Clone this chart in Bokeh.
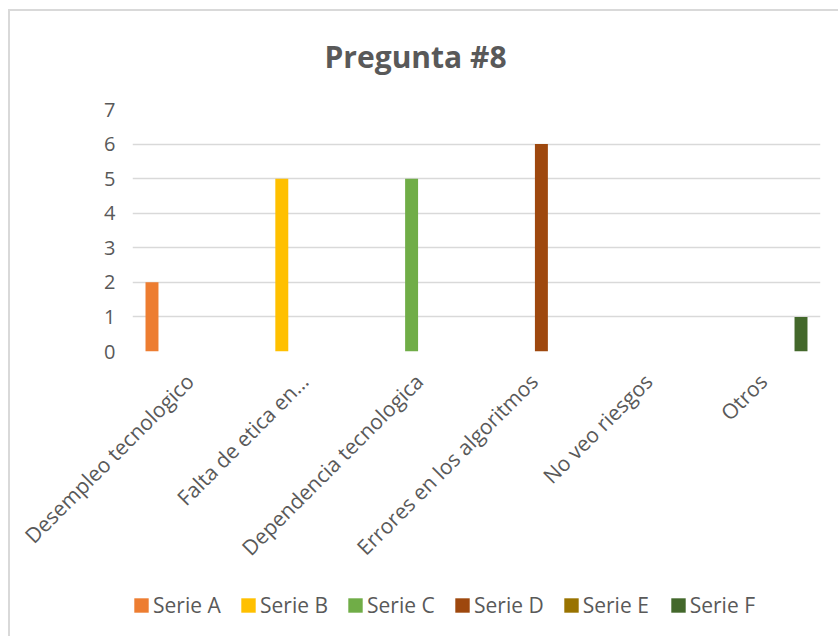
import math
from bokeh.plotting import figure
from bokeh.layouts import column
from bokeh.models import FactorRange, Legend, LegendItem, FixedTicker, ColumnDataSource
from bokeh.transform import dodge
from bokeh.embed import file_html
from bokeh.resources import INLINE

categories = ["Desempleo tecnologico", "Falta de etica en…", "Dependencia tecnologica",
              "Errores en los algoritmos", "No veo riesgos", "Otros"]
series_names = ["Serie A", "Serie B", "Serie C", "Serie D", "Serie E", "Serie F"]
serie_a = [2, 0, 0, 0, 0, 0]
serie_b = [0, 5, 0, 0, 0, 0]
serie_c = [0, 0, 5, 0, 0, 0]
serie_d = [0, 0, 0, 6, 0, 0]
serie_e = [0, 0, 0, 0, 0, 0]
serie_f = [0, 0, 0, 0, 0, 1]
y_ticks = [0, 1, 2, 3, 4, 5, 6, 7]
colors = ["#ED7D31", "#FFC000", "#70AD47", "#9E480E", "#997300", "#43682B"]

series_values = [serie_a, serie_b, serie_c, serie_d, serie_e, serie_f]

GRID = "#d9d9d9"
W, H1, H2 = 838, 580, 56

p = figure(width=W, height=H1, output_backend="svg", toolbar_location=None,
           title="Pregunta #8",
           x_range=FactorRange(*categories, range_padding=0), y_range=(0, 7),
           min_border_left=132, min_border_right=18, min_border_top=109,
           min_border_bottom=H1 - 351)
p.styles = {
    "background": f"linear-gradient({GRID},{GRID}) 8px 9px / 2px 100% no-repeat, "
                  f"linear-gradient({GRID},{GRID}) 8px 9px / 100% 2px no-repeat, white"
}
p.outline_line_color = None
p.background_fill_color = "white"
p.border_fill_alpha = 0

p.title.align = "left"
p.title.offset = 192
p.title.standoff = 66
p.title.text_font = "Open Sans"
p.title.text_font_style = "bold"
p.title.text_font_size = "30px"
p.title.text_color = "#595959"

src = {"cat": categories}
for name, vals in zip(series_names, series_values):
    src[name] = vals
source = ColumnDataSource(src)

step = 0.132
bar_w = 0.113
for i, (name, col) in enumerate(zip(series_names, colors)):
    p.vbar(x=dodge("cat", (i - 2.5) * step, range=p.x_range), top=name, width=bar_w,
           source=source, fill_color=col, line_color=None)

p.xgrid.grid_line_color = None
p.ygrid.grid_line_color = GRID
p.ygrid.grid_line_width = 1.4
p.yaxis.ticker = FixedTicker(ticks=y_ticks)

for ax in (p.xaxis[0], p.yaxis[0]):
    ax.axis_line_color = None
    ax.major_tick_line_color = None
    ax.minor_tick_line_color = None
    ax.major_label_text_font = "Open Sans"
    ax.major_label_text_color = "#595959"
p.yaxis.major_label_text_font_size = "20px"
p.xaxis.major_label_text_font_size = "21px"
p.yaxis.major_label_standoff = 11
p.xaxis.major_label_standoff = 20
p.xaxis.major_label_orientation = math.pi / 4

# legend strip below the chart (same series sources, so swatches carry the series colours)
lg = figure(width=W, height=H2, output_backend="svg", toolbar_location=None,
            x_range=FactorRange(*categories, range_padding=0), y_range=(100, 101),
            x_axis_type=None, y_axis_type=None,
            min_border=0, min_border_left=0, min_border_right=0,
            min_border_top=0, min_border_bottom=0)
lg.styles = {"background": f"linear-gradient({GRID},{GRID}) 8px 0px / 2px 100% no-repeat, white"}
lg.outline_line_color = None
lg.background_fill_alpha = 0
lg.border_fill_alpha = 0
lg.grid.visible = False

items = []
for i, (name, col) in enumerate(zip(series_names, colors)):
    r = lg.vbar(x=dodge("cat", (i - 2.5) * step, range=lg.x_range), top=name, width=bar_w,
                source=source, fill_color=col, line_color=None)
    items.append(LegendItem(label=name, renderers=[r], index=0))

legend = Legend(items=items, orientation="horizontal", location=(0, 17),
                glyph_width=18, glyph_height=18, label_standoff=3, spacing=18,
                padding=0, margin=0, border_line_color=None, background_fill_alpha=0,
                label_text_font="Open Sans", label_text_font_size="21px",
                label_text_color="#595959", label_height=20, label_width=68)
lg.add_layout(legend, "center")

layout = column(p, lg, spacing=0)
open("out.html", "w").write(file_html(layout, INLINE))
